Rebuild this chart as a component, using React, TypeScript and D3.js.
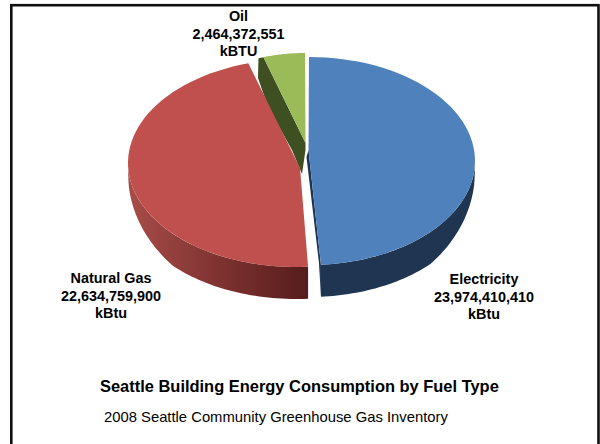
import React from "react";
import * as d3 from "d3";

const fuels = ["Electricity", "Natural Gas", "Oil"];
const consumption = [23974410410, 22634759900, 2464372551];
const units = ["kBtu", "kBtu", "kBTU"];
const topColors = ["#4f81bd", "#c0504d", "#9bbb59"];

const W = 600;
const H = 444;
const DEPTH = 32;

// Ellipse of each exploded slice, and the point where its two cut edges meet.
const discs = [
  { x: 309, y: 161, rx: 166, ry: 104, apexX: 308.5, apexY: 150 },
  { x: 296, y: 163, rx: 168, ry: 104, apexX: 300, apexY: 168 },
  { x: 305, y: 159, rx: 150, ry: 106, apexX: 305.5, apexY: 143 },
];

type Disc = (typeof discs)[number];

const pie = d3.pie<number>().sort(null).value((d) => d);
const slices = pie(consumption);

const px = (c: Disc, a: number) => c.x + c.rx * Math.sin(a);
const py = (c: Disc, a: number) => c.y - c.ry * Math.cos(a);

const sweep = (a0: number, a1: number) =>
  d3.range(0, 61).map((k) => a0 + ((a1 - a0) * k) / 60);

// Flat top of a slice: apex, then the rim between two angles.
function topPath(c: Disc, a0: number, a1: number) {
  const rim = sweep(a0, a1).map((a) => [px(c, a), py(c, a)] as [number, number]);
  return (d3.line()([[c.apexX, c.apexY], ...rim]) as string) + "Z";
}

// Wall height tapers to nothing where the rim turns away at the sides.
function wallHeight(a: number) {
  const c = Math.abs(Math.cos(a));
  return DEPTH * Math.min(1, c + 0.32 * Math.min(1, c / 0.1));
}

function rimPath(c: Disc, a0: number, a1: number) {
  return d3
    .area<number>()
    .x((a) => px(c, a))
    .y0((a) => py(c, a))
    .y1((a) => py(c, a) + wallHeight(a))(sweep(a0, a1)) as string;
}

export default function App() {
  const [blue, red, oil] = slices;
  const [bd, rd, od] = discs;
  const fmt = d3.format(",");
  const labels = [
    { i: 0, x: 484, y: 284 },
    { i: 1, x: 111, y: 283 },
    { i: 2, x: 238.5, y: 21 },
  ];
  const blueTip: [number, number] = [px(bd, blue.endAngle), py(bd, blue.endAngle)];
  const oilCorner: [number, number] = [px(od, oil.startAngle), py(od, oil.startAngle)];
  // The green top starts a little past the cut, leaving the dark face exposed.
  const oilTopStart = oil.startAngle + 0.035;
  const oilTopCorner: [number, number] = [px(od, oilTopStart), py(od, oilTopStart)];

  return (
    <svg
      width={W}
      height={H}
      style={{ position: "absolute", left: 0, top: 0, background: "#fff" }}
      fontFamily="'Liberation Sans', Arial, sans-serif"
    >
      <defs>
        <linearGradient id="redWall" gradientUnits="userSpaceOnUse" x1={128} x2={308} y1={0} y2={0}>
          <stop offset="0" stopColor="#a84c49" />
          <stop offset="0.5" stopColor="#7f3331" />
          <stop offset="1" stopColor="#551c1c" />
        </linearGradient>
      </defs>
      <rect x={11.3} y={5.2} width={587.2} height={450} fill="none" stroke="#111" strokeWidth={2.6} />

      {/* Side walls */}
      <path d={rimPath(rd, red.startAngle, 1.5 * Math.PI - 0.05)} fill="url(#redWall)" />
      <path d={rimPath(bd, 0.5 * Math.PI + 0.05, blue.endAngle)} fill="#1f3552" />
      <path
        d={
          (d3.line()([
            [bd.apexX, bd.apexY],
            [bd.apexX - 2, bd.apexY + 7],
            [blueTip[0] - 2, blueTip[1] - 2],
            [blueTip[0], blueTip[1] + DEPTH],
            blueTip,
          ]) as string) + "Z"
        }
        fill="#1f3552"
      />

      {/* Oil wedge: exposed cut face under the green top */}
      <path
        d={
          (d3.line()([
            oilCorner,
            [258, 78],
            [268, 107],
            [292, 150],
            [302, 174],
            [od.apexX, od.apexY + 7],
            [od.apexX, od.apexY],
            oilTopCorner,
          ]) as string) + "Z"
        }
        fill="#3e4f22"
      />
      <path d={topPath(od, oilTopStart, oil.endAngle)} fill={topColors[2]} />

      {/* The far corner of the gas slice runs slightly past its cut under the tilt. */}
      <path d={topPath(rd, red.startAngle, red.endAngle + 0.028)} fill={topColors[1]} />
      <path d={topPath(bd, blue.startAngle, blue.endAngle)} fill={topColors[0]} />

      {labels.map((l) => (
        <text key={fuels[l.i]} x={l.x} y={l.y} textAnchor="middle" fontWeight="bold" fontSize={14.4} fill="#000">
          <tspan x={l.x}>{fuels[l.i]}</tspan>
          <tspan x={l.x} dy={17.5}>{fmt(consumption[l.i])}</tspan>
          <tspan x={l.x} dy={17.5}>{units[l.i]}</tspan>
        </text>
      ))}
      <text x={100} y={392} fontWeight="bold" fontSize={16.45} fill="#000">
        Seattle Building Energy Consumption by Fuel Type
      </text>
      <text x={104} y={421.5} fontSize={14.8} fill="#000">
        2008 Seattle Community Greenhouse Gas Inventory
      </text>
    </svg>
  );
}
